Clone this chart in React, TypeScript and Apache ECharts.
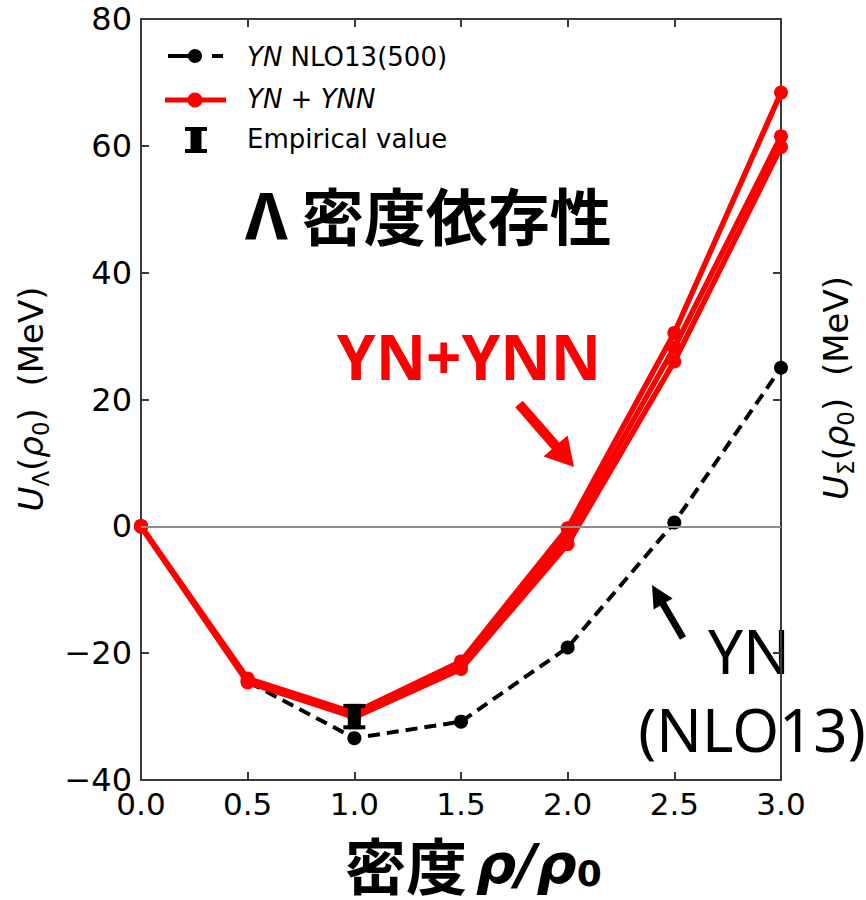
import React, { useEffect, useRef } from "react";
import * as echarts from "echarts";

// Density grid (in units of ρ0)
const densities = [0, 0.5, 1.0, 1.5, 2.0, 2.5, 3.0];
// Λ single-particle potential (MeV), YN NLO13(500) only
const ynNlo13 = [0, -24.5, -33.4, -30.8, -19.1, 0.6, 25.0];
// Λ single-particle potential (MeV), YN + YNN variants
const ynYnnA = [0, -24.0, -29.4, -21.3, -0.3, 30.5, 68.4];
const ynYnnB = [0, -24.3, -29.8, -21.9, -1.6, 28.2, 61.5];
const ynYnnC = [0, -24.6, -30.1, -22.5, -2.8, 26.0, 59.8];
// Empirical value at saturation density: [density, lower, upper]
const empiricalRange = [1.0, -32.0, -28.0];

const xRange = [0, 3];
const xStep = 0.5;
const yRange = [-40, 80];
const yStep = 20;

const TICK_FONT = "DejaVu Sans";
const CJK_FONT = "Noto Sans CJK JP";
const RED = "#ff0000";
const FRAME = "#3a3a3a";

function arrowPoints(
  tail: [number, number],
  tip: [number, number],
  shaftHalf: number,
  headLen: number,
  headHalf: number
): number[][] {
  const dx = tip[0] - tail[0];
  const dy = tip[1] - tail[1];
  const len = Math.hypot(dx, dy);
  const ux = dx / len;
  const uy = dy / len;
  const nx = -uy;
  const ny = ux;
  const bx = tip[0] - ux * headLen;
  const by = tip[1] - uy * headLen;
  return [
    [tail[0] + nx * shaftHalf, tail[1] + ny * shaftHalf],
    [bx + nx * shaftHalf, by + ny * shaftHalf],
    [bx + nx * headHalf, by + ny * headHalf],
    [tip[0], tip[1]],
    [bx - nx * headHalf, by - ny * headHalf],
    [bx - nx * shaftHalf, by - ny * shaftHalf],
    [tail[0] - nx * shaftHalf, tail[1] - ny * shaftHalf],
  ];
}

function iBeam(cx: number, top: number, bottom: number, barW: number, capW: number, capH: number, fill: string) {
  return [
    { type: "rect", shape: { x: cx - barW / 2, y: top, width: barW, height: bottom - top }, style: { fill } },
    { type: "rect", shape: { x: cx - capW / 2, y: top, width: capW, height: capH }, style: { fill } },
    { type: "rect", shape: { x: cx - capW / 2, y: bottom - capH, width: capW, height: capH }, style: { fill } },
  ];
}

const pair = (ys: number[]) => densities.map((x, i) => [x, ys[i]]);

const minusFmt = (v: number) => (v < 0 ? "\u2212" + Math.abs(v) : String(v));

const axisLabelRich = {
  i: { fontFamily: TICK_FONT, fontStyle: "italic", fontSize: 34, lineHeight: 42, fill: "#000" },
  n: { fontFamily: TICK_FONT, fontSize: 34, lineHeight: 42, fill: "#000" },
  s: { fontFamily: TICK_FONT, fontSize: 23, lineHeight: 18, verticalAlign: "bottom", fill: "#000" },
};

export default function App() {
  const ref = useRef<HTMLDivElement>(null);

  useEffect(() => {
    if (!ref.current) return;
    const chart = echarts.init(ref.current, undefined, { renderer: "svg" });

    const frameAxis = {
      axisLine: { show: true, onZero: false, lineStyle: { color: FRAME, width: 2 } },
      axisTick: { show: true, inside: true, length: 8, lineStyle: { color: FRAME, width: 2 } },
      splitLine: { show: false },
    };

    const option: any = {
      animation: false,
      backgroundColor: "#fff",
      grid: { left: 141, right: 85, top: 19, bottom: 120 },
      xAxis: [
        {
          ...frameAxis,
          type: "value",
          position: "bottom",
          min: xRange[0],
          max: xRange[1],
          interval: xStep,
          axisLabel: {
            fontFamily: TICK_FONT,
            fontSize: 31,
            color: "#000",
            margin: 8,
            formatter: (v: number) => v.toFixed(1),
          },
        },
        {
          ...frameAxis,
          type: "value",
          position: "top",
          min: xRange[0],
          max: xRange[1],
          interval: xStep,
          axisLabel: { show: false },
        },
      ],
      yAxis: [
        {
          ...frameAxis,
          type: "value",
          position: "left",
          min: yRange[0],
          max: yRange[1],
          interval: yStep,
          axisLabel: {
            fontFamily: TICK_FONT,
            fontSize: 32,
            color: "#000",
            margin: 9,
            formatter: minusFmt,
          },
        },
        {
          ...frameAxis,
          type: "value",
          position: "right",
          min: yRange[0],
          max: yRange[1],
          interval: yStep,
          axisLabel: { show: false },
        },
      ],
      series: [
        {
          name: "YN NLO13(500)",
          type: "line",
          data: pair(ynNlo13),
          z: 2,
          symbol: "circle",
          symbolSize: 14,
          itemStyle: { color: "#000" },
          lineStyle: { color: "#000", width: 4, type: [12, 7] },
          markLine: {
            silent: true,
            symbol: ["none", "none"],
            label: { show: false },
            lineStyle: { color: "#8c8c8c", width: 2, type: "solid" },
            data: [{ yAxis: 0 }],
          },
        },
        ...[ynYnnA, ynYnnB, ynYnnC].map((ys, k) => ({
          name: "YN + YNN " + (k + 1),
          type: "line",
          data: pair(ys),
          z: 3,
          symbol: "circle",
          symbolSize: 14,
          itemStyle: { color: RED },
          lineStyle: { color: RED, width: 5.5 },
        })),
        {
          name: "Empirical value",
          type: "custom",
          z: 5,
          data: [empiricalRange],
          encode: { x: 0, y: [1, 2] },
          renderItem: (params: any, api: any) => {
            const lo = api.coord([api.value(0), api.value(1)]);
            const hi = api.coord([api.value(0), api.value(2)]);
            return {
              type: "group",
              children: iBeam(lo[0], hi[1], lo[1], 13, 22, 4, "#000"),
            };
          },
        },
      ],
      graphic: [
        // legend
        { type: "line", shape: { x1: 168, y1: 56, x2: 189, y2: 56 }, style: { stroke: "#000", lineWidth: 4 } },
        { type: "line", shape: { x1: 212, y1: 56, x2: 223, y2: 56 }, style: { stroke: "#000", lineWidth: 4 } },
        { type: "circle", shape: { cx: 195, cy: 56, r: 7 }, style: { fill: "#000" } },
        {
          type: "text",
          x: 247,
          y: 57,
          style: {
            text: "{i|YN}{n| NLO13(500)}",
            verticalAlign: "middle",
            rich: {
              i: { fontFamily: TICK_FONT, fontStyle: "italic", fontSize: 26, fill: "#000" },
              n: { fontFamily: TICK_FONT, fontSize: 26, fill: "#000" },
            },
          },
        },
        { type: "line", shape: { x1: 165, y1: 100, x2: 226, y2: 100 }, style: { stroke: RED, lineWidth: 5 } },
        { type: "circle", shape: { cx: 195, cy: 100, r: 7.5 }, style: { fill: RED } },
        {
          type: "text",
          x: 247,
          y: 99,
          style: {
            text: "{i|YN}{n| + }{i|YNN}",
            verticalAlign: "middle",
            rich: {
              i: { fontFamily: TICK_FONT, fontStyle: "italic", fontSize: 26, fill: "#000" },
              n: { fontFamily: TICK_FONT, fontSize: 26, fill: "#000" },
            },
          },
        },
        ...iBeam(196, 127, 153, 11, 22, 4, "#000"),
        {
          type: "text",
          x: 247,
          y: 139,
          style: { text: "Empirical value", verticalAlign: "middle", fontFamily: TICK_FONT, fontSize: 26, fill: "#000" },
        },
        // axis titles
        {
          type: "text",
          x: 31,
          y: 399,
          rotation: Math.PI / 2,
          style: {
            text: "{i|U}{s|Λ}{n|(}{i|ρ}{s|0}{n|)  (MeV)}",
            align: "center",
            verticalAlign: "middle",
            rich: axisLabelRich,
          },
        },
        {
          type: "text",
          x: 836,
          y: 388,
          rotation: Math.PI / 2,
          style: {
            text: "{i|U}{s|Σ}{n|(}{i|ρ}{s|0}{n|)  (MeV)}",
            align: "center",
            verticalAlign: "middle",
            rich: axisLabelRich,
          },
        },
        {
          type: "text",
          x: 467,
          y: 863,
          style: {
            text: "{c|密度}",
            align: "right",
            verticalAlign: "middle",
            rich: {
              c: { fontFamily: CJK_FONT, fontWeight: "bold", fontSize: 61, lineHeight: 56, fill: "#000" },
            },
          },
        },
        {
          type: "text",
          x: 476,
          y: 863,
          style: {
            text: "{m|ρ/ρ}{s|0}",
            align: "left",
            verticalAlign: "middle",
            rich: {
              m: { fontFamily: TICK_FONT, fontStyle: "italic", fontWeight: "bold", fontSize: 56, lineHeight: 56, fill: "#000" },
              s: { fontFamily: TICK_FONT, fontWeight: "bold", fontSize: 36, lineHeight: 24, verticalAlign: "bottom", fill: "#000" },
            },
          },
        },
        // annotations
        {
          type: "text",
          x: 245,
          y: 214,
          style: {
            text: "{g|Λ}{c| 密度依存性}",
            verticalAlign: "middle",
            rich: {
              g: { fontFamily: "Noto Sans", fontWeight: "bold", fontSize: 64, fill: "#000" },
              c: { fontFamily: CJK_FONT, fontWeight: "bold", fontSize: 62, fill: "#000" },
            },
          },
        },
        {
          type: "text",
          x: 469,
          y: 356,
          style: {
            text: "YN+YNN",
            align: "center",
            verticalAlign: "middle",
            fontFamily: "Noto Sans",
            fontWeight: "bold",
            fontSize: 62,
            fill: RED,
          },
        },
        {
          type: "polygon",
          shape: { points: arrowPoints([519, 404], [574, 467], 5, 28, 16) },
          style: { fill: RED },
        },
        {
          type: "polygon",
          shape: { points: arrowPoints([683, 638], [652, 585], 3.5, 22, 11) },
          style: { fill: "#000" },
        },
        {
          type: "text",
          x: 749,
          y: 650,
          style: { text: "YN", align: "center", verticalAlign: "middle", fontFamily: "Noto Sans", fontSize: 62, fill: "#000" },
        },
        {
          type: "text",
          x: 752,
          y: 729,
          style: { text: "(NLO13)", align: "center", verticalAlign: "middle", fontFamily: "Noto Sans", fontSize: 60, fill: "#000" },
        },
      ],
    };

    chart.setOption(option);
    return () => chart.dispose();
  }, []);

  return <div ref={ref} style={{ position: "absolute", left: 0, top: 0, width: 866, height: 900 }} />;
}
